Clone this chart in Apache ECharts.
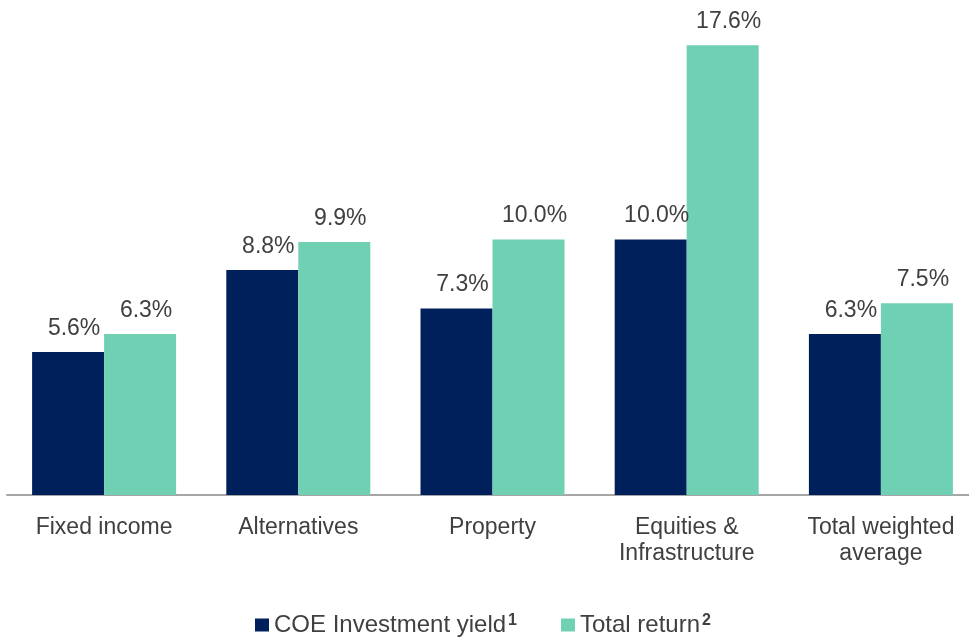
<!DOCTYPE html>
<html>
<head>
<meta charset="utf-8">
<script src="https://cdn.jsdelivr.net/npm/echarts@6/dist/echarts.min.js"></script>
<style>
html, body { margin: 0; padding: 0; background: #fff; }
#main { width: 969px; height: 639px; }
</style>
</head>
<body>
<div id="main"></div>
<script>
var categories = ["Fixed income", "Alternatives", "Property", "Equities &\nInfrastructure", "Total weighted\naverage"];
var coeYield = [5.6, 8.8, 7.3, 10.0, 6.3];
var totalReturn = [6.3, 9.9, 10.0, 17.6, 7.5];
var seriesNames = ["COE Investment yield", "Total return"];
var footnotes = ["1", "2"];

var font = "Liberation Sans, Arial, sans-serif";
var textColor = "#404040";

var myChart = echarts.init(document.getElementById("main"));

function barLabel() {
  return {
    show: true,
    position: "top",
    distance: 12,
    offset: [6, 0],
    color: textColor,
    fontFamily: font,
    fontSize: 23,
    formatter: function(p) { return p.value.toFixed(1) + "%"; }
  };
}

var option = {
  animation: false,
  grid: { left: 7, top: 35, width: 971, height: 460, outerBoundsMode: "none" },
  legend: {
    bottom: -5,
    left: 250,
    itemWidth: 14,
    itemHeight: 13,
    itemGap: 44,
    icon: "rect",
    data: seriesNames,
    formatter: function(name) {
      var i = seriesNames.indexOf(name);
      return "{t|" + name + "}{s|" + footnotes[i] + "}";
    },
    textStyle: {
      rich: {
        t: { fontFamily: font, fontSize: 24, color: textColor, verticalAlign: "bottom" },
        s: { fontFamily: font, fontSize: 16, lineHeight: 16, fontWeight: "bold", color: textColor, verticalAlign: "top", padding: [0, 0, 10, 2] }
      }
    }
  },
  xAxis: {
    type: "category",
    data: categories,
    axisLine: { lineStyle: { color: "#a6a6a6", width: 2 } },
    axisTick: { show: false },
    axisLabel: {
      color: textColor,
      fontFamily: font,
      fontSize: 23,
      lineHeight: 26,
      margin: 20,
      interval: 0
    }
  },
  yAxis: {
    type: "value",
    min: 0,
    max: 18,
    show: false,
    splitLine: { show: false }
  },
  series: [
    {
      name: seriesNames[0],
      type: "bar",
      data: coeYield,
      barWidth: 72,
      barGap: "0%",
      itemStyle: { color: "#00205b" },
      label: barLabel()
    },
    {
      name: seriesNames[1],
      type: "bar",
      data: totalReturn,
      barWidth: 72,
      itemStyle: { color: "#6fd0b3" },
      label: barLabel()
    }
  ]
};

myChart.setOption(option);
</script>
</body>
</html>
